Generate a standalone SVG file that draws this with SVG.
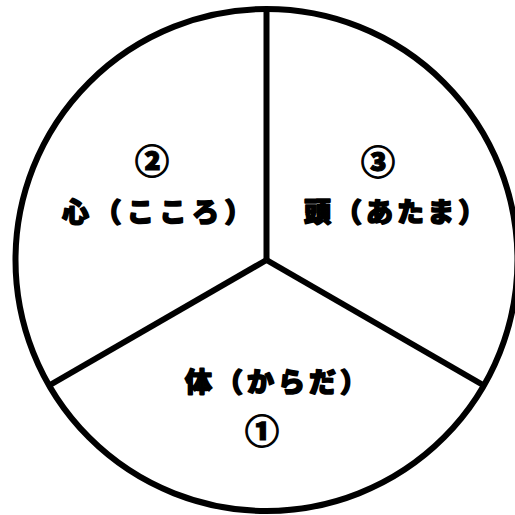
<svg xmlns="http://www.w3.org/2000/svg" width="515" height="515" viewBox="0 0 515 515">
<style>
.ln{fill:none;stroke:#000;stroke-width:6}
.t{font-family:"Noto Sans CJK JP","Noto Sans CJK SC",sans-serif;font-weight:900;font-size:27px;letter-spacing:4px;fill:#000;stroke:#000;stroke-width:1.6;stroke-linejoin:round}
.n{font-family:"Noto Sans CJK JP","Noto Sans CJK SC",sans-serif;font-weight:900;font-size:34px;fill:#000;stroke:#000;stroke-width:1.2;text-anchor:middle}
</style>
<rect width="515" height="515" fill="#fff"/>
<g id="connectors">
<circle class="ln" cx="266.5" cy="260" r="251"/>
<line class="ln" x1="266.5" y1="260" x2="266.5" y2="9"/>
<line class="ln" x1="266.5" y1="260" x2="49.1" y2="385.5"/>
<line class="ln" x1="266.5" y1="260" x2="483.9" y2="385.5"/>
</g>
<g id="node-kokoro">
<text class="n" x="152" y="174">②</text>
<text class="t" x="62" y="222" style="letter-spacing:5.5px">心（こころ）</text>
</g>
<g id="node-atama">
<text class="n" x="378" y="175">③</text>
<text class="t" x="304" y="222">頭（あたま）</text>
</g>
<g id="node-karada">
<text class="t" x="185" y="392">体（からだ）</text>
<text class="n" x="262" y="444">①</text>
</g>
</svg>
